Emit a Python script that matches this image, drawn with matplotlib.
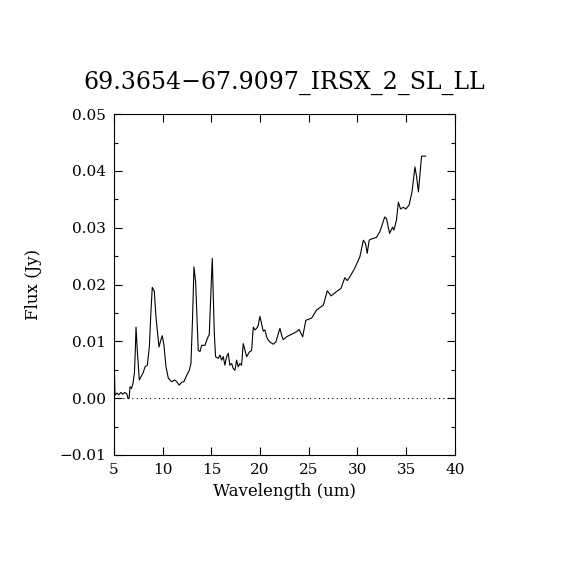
import numpy as np
import matplotlib
matplotlib.use("Agg")
import matplotlib.pyplot as plt
from matplotlib.ticker import MultipleLocator

# spectrum (wavelength in um, flux in Jy)
wavelength = [
    5.03, 5.05, 5.10, 5.3, 5.5, 5.7, 5.9, 6.1, 6.3, 6.45, 6.55, 6.65, 6.8, 6.95,
    7.1, 7.2, 7.26, 7.39, 7.6, 7.84, 8.0, 8.18, 8.42, 8.63, 8.8, 8.93, 9.14,
    9.31, 9.48, 9.62, 9.79, 9.96, 10.13, 10.34, 10.58, 10.92, 11.26, 11.43,
    11.7, 11.95, 12.18, 12.46, 12.73, 12.9, 13.07, 13.21, 13.38, 13.52, 13.65,
    13.83, 14.0, 14.34, 14.58, 14.78, 14.92, 15.09, 15.19, 15.3, 15.43, 15.71,
    15.88, 16.05, 16.22, 16.39, 16.56, 16.73, 16.9, 17.08, 17.25, 17.42, 17.59,
    17.76, 17.93, 18.1, 18.27, 18.45, 18.62, 18.89, 19.13, 19.3, 19.47, 19.65,
    19.81, 19.98, 20.16, 20.32, 20.5, 20.67, 20.84, 21.01, 21.35, 21.63, 21.86,
    22.04, 22.21, 22.38, 22.72, 23.06, 23.4, 23.75, 24.0, 24.37, 24.7, 25.3,
    25.8, 26.5, 26.9, 27.3, 27.8, 28.3, 28.7, 28.95, 29.2, 29.7, 30.25, 30.6,
    30.83, 31.0, 31.2, 31.4, 31.95, 32.3, 32.57, 32.8, 32.98, 33.3, 33.6, 33.74,
    34.0, 34.2, 34.42, 34.7, 34.97, 35.3, 35.6, 35.9, 36.07, 36.26, 36.48,
    36.58, 36.99,
]
flux = [
    0.0042, 0.0042, 0.0005, 0.0009, 0.0006, 0.0010, 0.0007, 0.0010, 0.0008,
    -0.0001, 0.0000, 0.0020, 0.0017, 0.0026, 0.0045, 0.0090, 0.0125, 0.0084,
    0.0032, 0.0040, 0.0045, 0.0055, 0.0058, 0.0090, 0.0155, 0.0195, 0.0188,
    0.0143, 0.0114, 0.0090, 0.0101, 0.0110, 0.0093, 0.0055, 0.0035, 0.0029,
    0.0032, 0.0029, 0.0023, 0.0028, 0.0029, 0.0040, 0.0049, 0.0061, 0.0143,
    0.0231, 0.0205, 0.0143, 0.0084, 0.0082, 0.0093, 0.0093, 0.0105, 0.0112,
    0.0172, 0.0246, 0.0185, 0.0114, 0.0073, 0.0070, 0.0076, 0.0067, 0.0073,
    0.0058, 0.0073, 0.0079, 0.0058, 0.0061, 0.0052, 0.0049, 0.0067, 0.0055,
    0.0061, 0.0058, 0.0096, 0.0084, 0.0073, 0.0081, 0.0084, 0.0125, 0.0120,
    0.0123, 0.0128, 0.0144, 0.0131, 0.0118, 0.0120, 0.0108, 0.0102, 0.0099,
    0.0095, 0.0099, 0.0113, 0.0123, 0.0111, 0.0103, 0.0108, 0.0111, 0.0114,
    0.0117, 0.0121, 0.0108, 0.0137, 0.0141, 0.0155, 0.0164, 0.0189, 0.0180,
    0.0187, 0.0193, 0.0212, 0.0207, 0.0213, 0.0228, 0.0249, 0.0278, 0.0272,
    0.0255, 0.0278, 0.0280, 0.0283, 0.0293, 0.0307, 0.0319, 0.0316, 0.0290,
    0.0301, 0.0296, 0.0313, 0.0345, 0.0333, 0.0336, 0.0333, 0.0340, 0.0363,
    0.0407, 0.0390, 0.0363, 0.0407, 0.0426, 0.0426,
]

TITLE = "69.3654\u221267.9097_IRSX_2_SL_LL"

plt.rcParams["font.family"] = ["DejaVu Serif"]
plt.rcParams["axes.unicode_minus"] = True

fig = plt.figure(figsize=(5.7, 5.7), dpi=100)
ax = fig.add_axes([0.2, 0.2018, 0.598, 0.598])

ax.plot(wavelength, flux, color="black", lw=0.8)
ax.axhline(0, color="black", lw=0.8, ls=(0, (1, 3)))

ax.set_xlim(5, 40)
ax.set_ylim(-0.01, 0.05)
ax.xaxis.set_major_locator(MultipleLocator(5))
ax.yaxis.set_major_locator(MultipleLocator(0.01))
ax.yaxis.set_minor_locator(MultipleLocator(0.005))
ax.yaxis.set_major_formatter(plt.FuncFormatter(lambda v, p: f"{v:.2f}".replace("-", "\u2212")))
ax.tick_params(which="both", direction="in", top=True, right=True, width=0.8,
               labelsize=11, pad=6)
ax.tick_params(which="major", length=6)
ax.tick_params(which="minor", length=3)
for sp in ax.spines.values():
    sp.set_linewidth(0.8)

ax.set_xlabel("Wavelength (um)", fontsize=12, labelpad=4)
ax.set_ylabel("Flux (Jy)", fontsize=12, labelpad=12)
ax.set_title(TITLE, fontsize=17, pad=18)

fig.savefig("out.png", dpi=100)
